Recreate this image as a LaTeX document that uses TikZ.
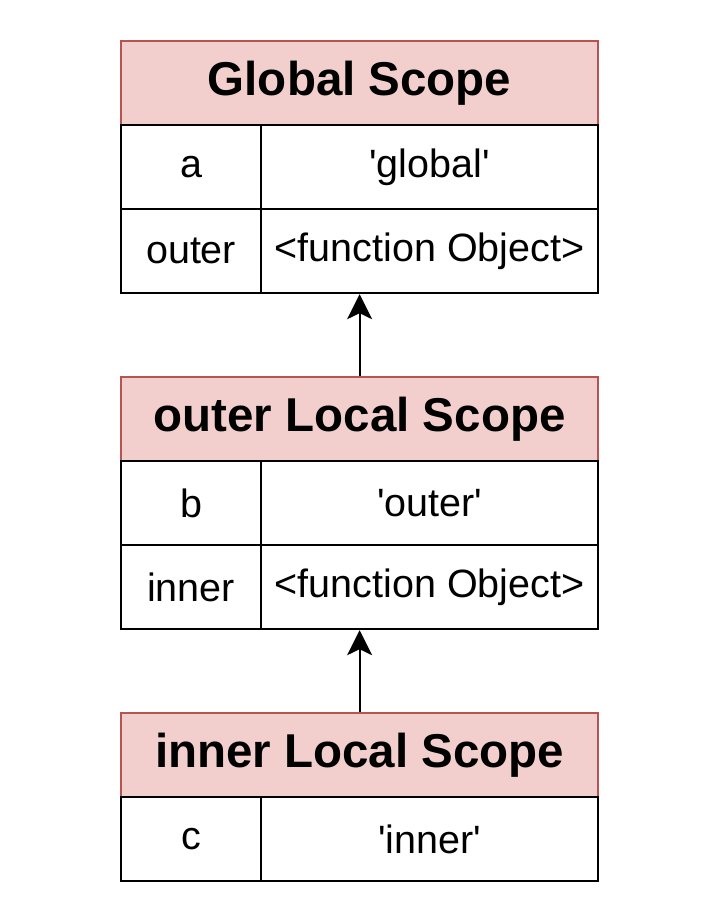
\documentclass[tikz,border=0pt]{standalone}
\usepackage{fontspec}
\setmainfont{Liberation Sans}[Ligatures=TeXOff]
\usetikzlibrary{arrows.meta}
\definecolor{hdrfill}{HTML}{F2CFCD}
\definecolor{hdrline}{HTML}{B85450}
\begin{document}
\begin{tikzpicture}[x=1pt,y=-1pt,
  hdr/.style={draw=hdrline,fill=hdrfill,line width=2.2pt,minimum width=477pt,minimum height=84pt,inner sep=0pt,font=\fontsize{47.5}{56}\selectfont\bfseries,anchor=north west},
  keycell/.style={draw=black,line width=2.2pt,minimum width=140pt,minimum height=84pt,inner sep=0pt,font=\fontsize{39.5}{47}\selectfont,anchor=north west},
  valcell/.style={draw=black,line width=2.2pt,minimum width=337pt,minimum height=84pt,inner sep=0pt,font=\fontsize{39.5}{47}\selectfont,anchor=north west},
  link/.style={line width=2pt,-{Stealth[length=25pt,width=25pt,inset=6pt]}}]
\useasboundingbox (0,0) rectangle (702,918);
% Global
\node[hdr] (gh) at (120,40) {Global Scope};
\node[keycell] (gk1) at (120,124) {a};
\node[valcell] (gv1) at (260,124) {'global'};
\node[keycell] (gk2) at (120,208) {outer};
\node[valcell] (gv2) at (260,208) {<function Object>};
% outer
\node[hdr] (oh) at (120,376) {outer Local Scope};
\node[keycell] (ok1) at (120,460) {b};
\node[valcell] (ov1) at (260,460) {'outer'};
\node[keycell] (ok2) at (120,544) {inner};
\node[valcell] (ov2) at (260,544) {<function Object>};
% inner
\node[hdr] (ih) at (120,712) {inner Local Scope};
\node[keycell] (ik1) at (120,796) {c};
\node[valcell] (iv1) at (260,796) {'inner'};
% arrows
\draw[link] (oh.north) -- (oh.north |- gv2.south);
\draw[link] (ih.north) -- (ih.north |- ov2.south);
\end{tikzpicture}
\end{document}
